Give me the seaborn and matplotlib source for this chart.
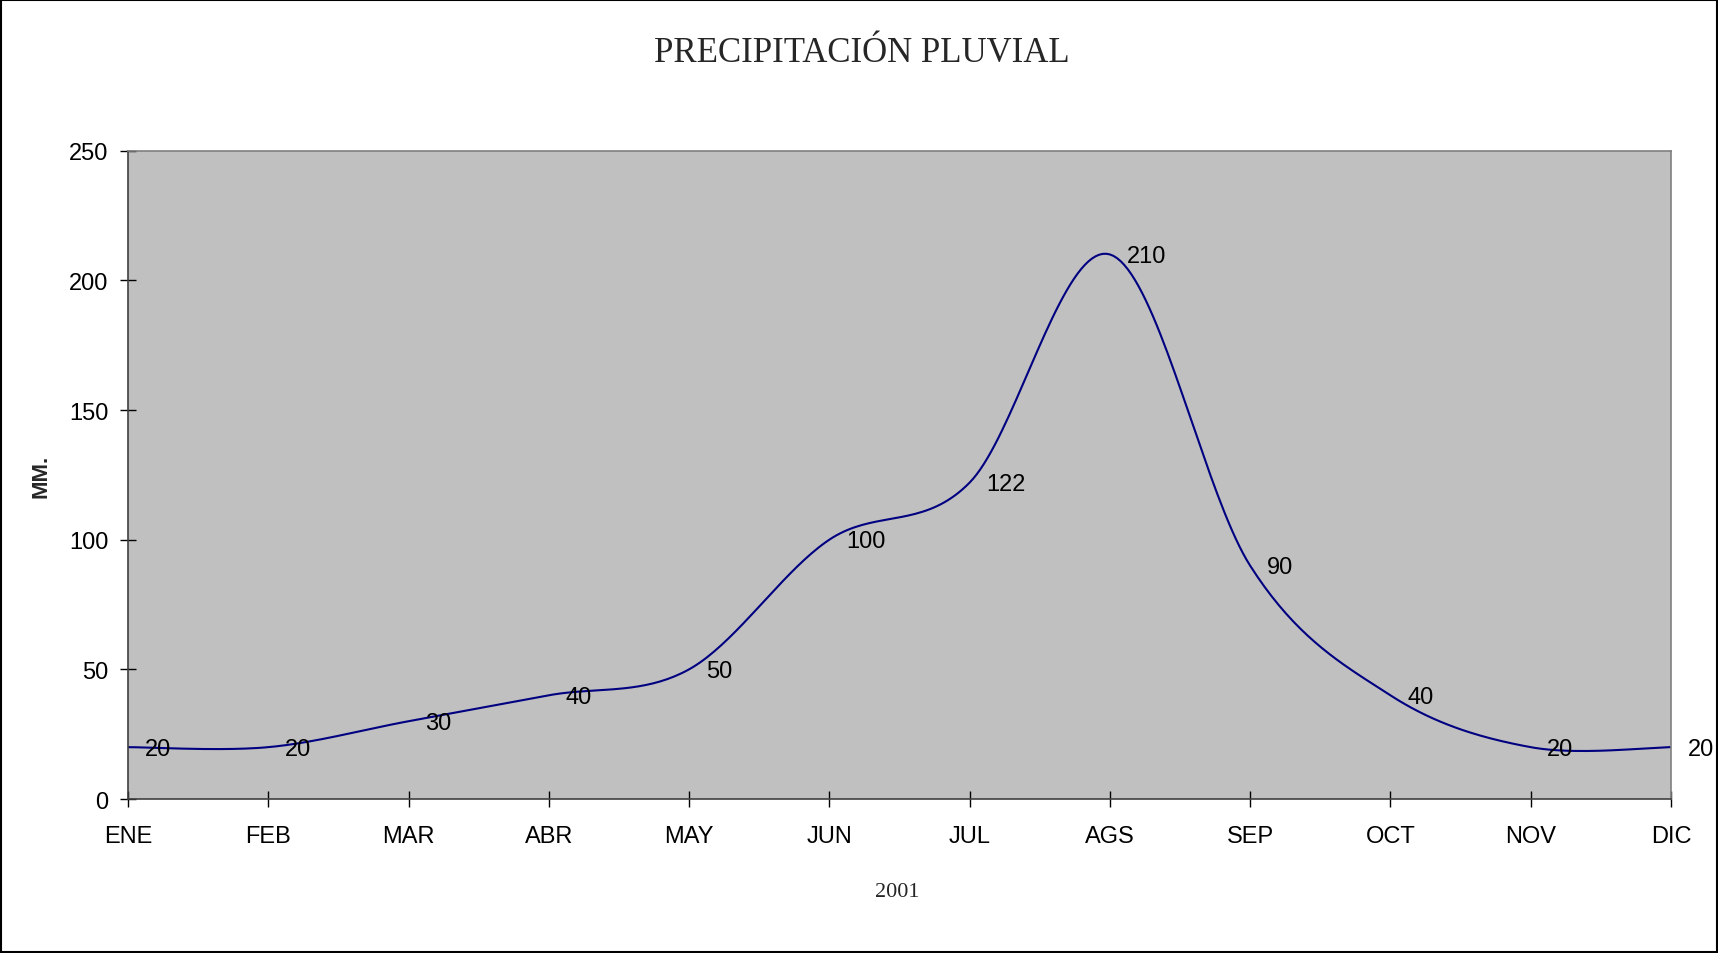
import numpy as np
import matplotlib
matplotlib.use("Agg")
import matplotlib.pyplot as plt
import seaborn as sns
from matplotlib.bezier import BezierSegment
from matplotlib.patches import Rectangle

# Data
months = ["ENE", "FEB", "MAR", "ABR", "MAY", "JUN", "JUL", "AGS", "SEP", "OCT", "NOV", "DIC"]
rain_mm = [20, 20, 30, 40, 50, 100, 122, 210, 90, 40, 20, 20]

# Style
sns.set_style("white")
plt.rcParams["font.family"] = ["Liberation Sans", "DejaVu Sans"]

fig = plt.figure(figsize=(17.18, 9.54), dpi=100)
ax = fig.add_axes([0.0745, 0.1614, 0.8981, 0.6796])
ax.set_facecolor("#C0C0C0")

# Excel-like smoothed line (Catmull-Rom style bezier through the points)
x = np.arange(len(rain_mm), dtype=float)
y = np.array(rain_mm, dtype=float)
pts = np.column_stack([x, y])
ext = np.vstack([pts[0], pts, pts[-1]])
curve = []
t = np.linspace(0, 1, 40)
for i in range(len(pts) - 1):
    p0, p3 = ext[i + 1], ext[i + 2]
    c1 = p0 + (ext[i + 2] - ext[i]) / 6
    c2 = p3 - (ext[i + 3] - ext[i + 1]) / 6
    seg = BezierSegment(np.array([p0, c1, c2, p3]))
    curve.append(seg.point_at_t(t))
curve = np.vstack(curve)

sns.lineplot(x=curve[:, 0], y=curve[:, 1], sort=False, color="#000080",
             linewidth=1.5, ax=ax)

# Data labels
for xi, v in zip(x, rain_mm):
    ax.annotate(str(v), (xi, v), xytext=(12, -1), textcoords="offset points",
                ha="left", va="center", fontsize=17, color="black",
                annotation_clip=False)

ax.set_xlim(0, 11)
ax.set_ylim(0, 250)
ax.set_xticks(x)
ax.set_xticklabels(months)
ax.set_yticks(range(0, 251, 50))
ax.tick_params(axis="x", bottom=True, direction="inout", length=12, width=1,
               pad=13, labelsize=17, colors="black")
ax.tick_params(axis="y", left=True, direction="inout", length=12, width=1,
               pad=8, labelsize=17, colors="black")
for side in ["left", "bottom"]:
    ax.spines[side].set_color("#404040")
    ax.spines[side].set_linewidth(1.2)
for side in ["top", "right"]:
    ax.spines[side].set_color("#808080")
    ax.spines[side].set_linewidth(1.2)

# Titles
fig.text(0.5015, 0.944, "PRECIPITACIÓN PLUVIAL", ha="center", va="center",
         fontsize=25, family=["Liberation Serif", "DejaVu Serif"])
fig.text(0.522, 0.064, "2001", ha="center", va="center",
         fontsize=16, family=["Liberation Serif", "DejaVu Serif"])
fig.text(0.024, 0.501, "MM.", ha="center", va="center", rotation=90,
         fontsize=16, fontweight="bold")

# Figure border
fig.patches.append(Rectangle((0.0005, 0.001), 0.999, 0.998, transform=fig.transFigure,
                             fill=False, edgecolor="black", linewidth=1.5))

plt.savefig("out.png", dpi=100)
